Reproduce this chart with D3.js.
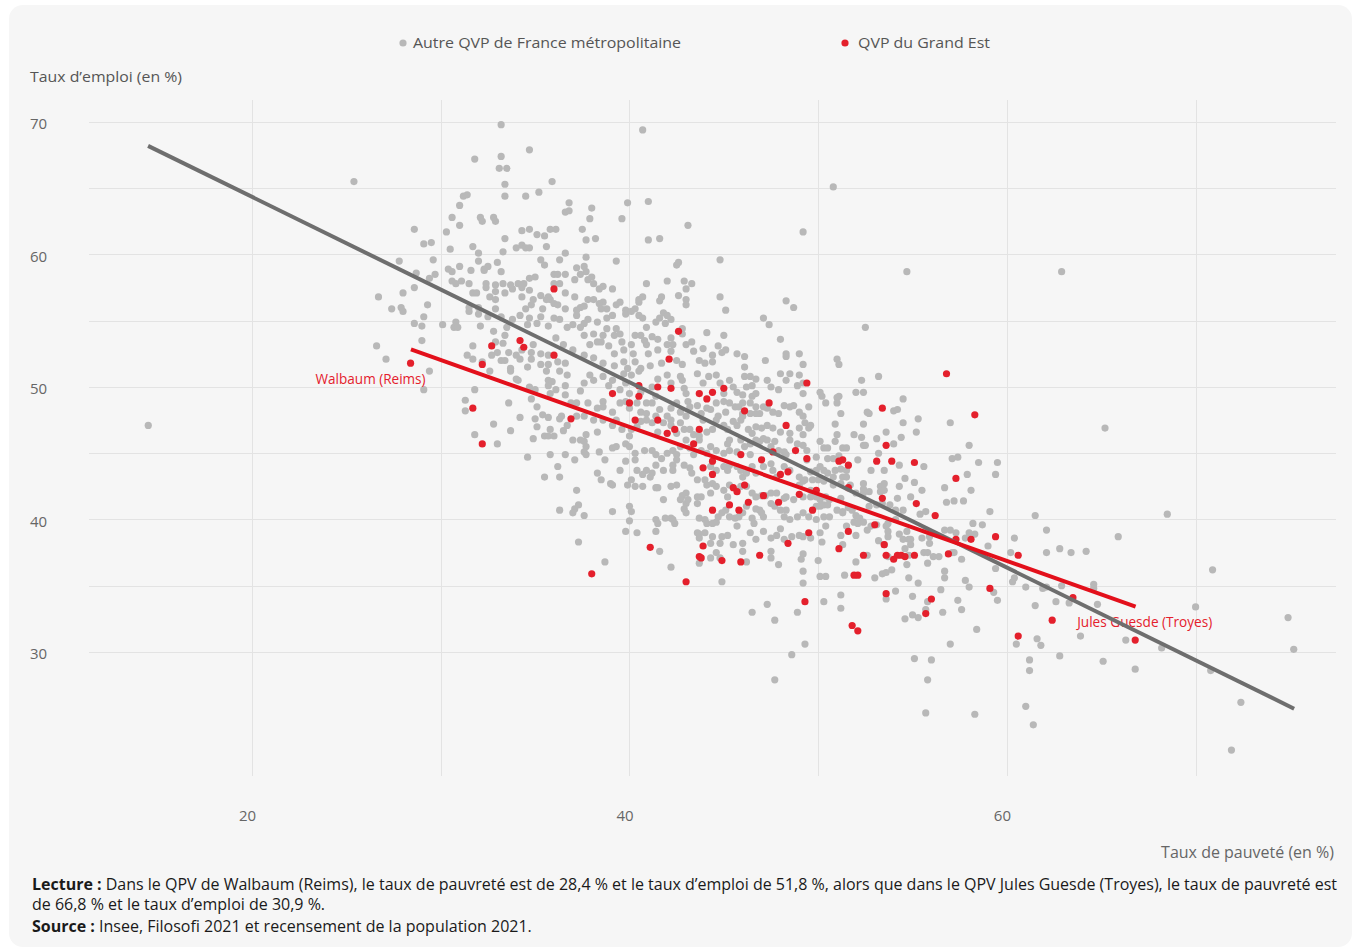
<!DOCTYPE html>
<html><head><meta charset="utf-8">
<script src="https://cdn.jsdelivr.net/npm/d3@7"></script>
<style>
body{margin:0;background:#fff;}
svg{display:block;font-family:"Open Sans",sans-serif;}
</style></head><body>
<svg id="chart" width="1357" height="948"></svg>
<script>
// ---- DATA (taux de pauvreté %, taux d'emploi %) ----
const seriesNames = ["Autre QVP de France métropolitaine", "QVP du Grand Est"];
const xTicks = [20, 40, 60];
const yTicks = [30, 40, 50, 60, 70];
const xGrid = [20, 30, 40, 50, 60, 70];
const yGrid = [30, 35, 40, 45, 50, 55, 60, 65, 70];

const autreQVP = [
[33.2,69.8],[34.7,67.9],[31.8,67.2],[33.2,67.4],[33.1,66.5],[33.5,66.5],[25.4,65.5],[33.4,65.3],[35.9,65.5],[35.2,64.7],[34.5,64.4],[33.4,64.4],[31.2,64.4],[31.4,64.5],[31.0,63.7],[36.8,63.9],[36.6,63.2],[36.8,63.3],[30.6,62.8],[32.1,62.8],[32.2,62.5],[32.8,62.8],[32.9,62.5],[31.0,62.2],[28.6,61.9],[30.3,61.7],[34.3,61.8],[34.7,61.9],[35.1,61.5],[35.5,61.4],[35.8,61.9],[36.1,61.9],[33.4,61.2],[29.1,60.8],[29.5,60.9],[30.5,60.4],[31.7,60.6],[34.0,60.5],[34.3,60.7],[34.5,60.5],[34.7,60.5],[33.3,60.2],[32.0,60.1],[35.6,60.6],[36.6,60.1],[27.8,59.5],[29.6,59.6],[32.0,59.5],[33.0,59.4],[35.3,59.6],[36.3,59.6],[35.5,59.2],[30.4,58.9],[31.0,59.1],[31.6,58.8],[32.3,58.9],[32.5,59.1],[32.3,58.8],[30.6,58.7],[33.2,58.7],[28.7,58.6],[29.7,58.5],[36.0,58.5],[36.2,58.5],[36.6,58.5],[29.4,58.2],[34.7,58.2],[35.0,58.3],[30.6,58.0],[31.1,58.0],[30.8,57.8],[31.5,57.8],[32.4,57.8],[32.9,57.7],[33.3,57.8],[33.7,57.7],[34.1,57.8],[34.4,57.8],[36.0,57.8],[36.3,57.8],[28.6,57.5],[32.4,57.5],[33.8,57.4],[34.3,57.5],[34.7,57.3],[26.7,56.8],[28.0,57.1],[31.7,57.1],[31.9,57.1],[32.6,56.8],[32.9,57.2],[33.4,57.1],[34.3,56.8],[35.3,56.9],[35.7,56.8],[36.6,57.1],[32.9,56.6],[34.9,56.6],[35.6,56.6],[35.8,56.6],[29.3,56.2],[27.4,55.9],[27.9,56.0],[28.0,55.7],[31.5,56.0],[31.5,55.7],[32.0,56.0],[32.9,55.9],[34.5,55.9],[34.8,56.2],[35.4,55.9],[36.0,56.3],[36.2,56.2],[36.6,55.9],[32.0,55.5],[32.5,55.3],[29.1,55.3],[28.6,54.8],[29.0,54.6],[30.1,54.7],[30.8,54.9],[30.7,54.5],[30.9,54.5],[32.1,54.6],[33.2,55.3],[33.8,55.1],[34.2,55.4],[34.7,55.2],[35.3,55.3],[35.7,54.6],[36.0,55.2],[36.3,55.1],[34.6,54.7],[35.1,54.8],[33.5,54.5],[32.8,54.2],[33.4,53.9],[36.1,53.7],[36.7,54.5],[29.0,53.5],[26.6,53.1],[31.7,53.1],[32.9,53.4],[33.3,53.3],[33.0,52.6],[32.7,52.4],[33.6,52.6],[34.0,52.4],[34.3,52.8],[34.9,53.2],[34.8,52.6],[35.3,52.5],[35.7,52.4],[36.5,53.2],[27.1,52.1],[31.4,52.4],[31.7,52.1],[32.2,51.9],[33.2,52.0],[33.4,52.0],[34.2,52.1],[34.8,52.1],[35.3,51.7],[35.7,51.7],[36.2,51.9],[36.6,51.8],[33.7,51.4],[34.6,51.5],
[40.7,69.4],[38.0,63.5],[39.9,63.9],[41.0,64.0],[37.9,62.7],[39.6,62.7],[43.1,62.2],[37.5,61.9],[37.7,61.1],[38.2,61.2],[41.0,61.1],[41.6,61.2],[49.2,61.7],[37.7,59.8],[39.3,59.5],[42.5,59.2],[42.6,59.4],[44.8,59.6],[37.2,59.0],[37.6,59.1],[37.7,58.7],[37.4,58.5],[38.0,58.3],[37.1,58.1],[37.8,58.1],[38.1,57.8],[38.6,57.6],[38.4,57.4],[39.1,57.4],[40.9,57.8],[42.0,58.0],[42.9,58.0],[43.3,57.8],[43.0,57.4],[37.1,56.8],[37.8,56.6],[38.1,56.6],[38.6,56.4],[38.4,56.3],[39.3,56.2],[39.5,56.4],[40.5,56.6],[40.7,56.8],[40.5,56.4],[41.7,56.8],[41.6,56.5],[42.6,56.9],[43.0,56.6],[43.0,56.2],[44.8,56.8],[45.1,55.8],[48.3,56.5],[48.7,56.0],[37.4,56.0],[37.2,55.8],[37.6,56.1],[38.8,55.9],[38.5,55.9],[39.8,55.8],[39.8,55.5],[40.1,55.7],[40.3,55.9],[38.8,55.2],[39.1,55.4],[37.2,55.4],[37.8,55.1],[38.3,54.9],[40.5,55.4],[40.7,55.2],[41.8,55.6],[42.0,55.4],[42.2,55.1],[41.6,55.2],[41.4,54.9],[41.9,54.8],[47.1,55.2],[47.4,54.7],[37.0,54.7],[37.6,54.8],[37.4,54.5],[38.8,54.4],[39.3,54.4],[40.9,54.5],[42.8,54.4],[37.6,53.9],[38.1,54.0],[38.6,53.9],[39.2,53.9],[39.5,54.0],[40.3,53.9],[40.6,53.9],[41.2,53.8],[42.2,53.7],[42.8,54.0],[44.1,54.1],[45.0,53.9],[48.0,53.6],[37.9,53.2],[38.3,53.4],[38.5,53.4],[38.9,53.1],[39.6,53.4],[39.7,52.8],[40.1,53.2],[40.8,53.5],[40.9,53.2],[41.5,53.6],[42.0,53.2],[42.3,53.2],[43.0,53.2],[43.3,53.4],[43.9,52.9],[44.7,53.1],[45.1,52.8],[43.4,52.7],[37.0,52.8],[37.6,52.4],[38.1,52.2],[39.2,52.5],[40.2,52.5],[41.0,52.5],[41.5,52.8],[42.2,52.7],[42.5,52.0],[42.8,51.7],[43.7,52.0],[44.0,51.8],[44.4,52.4],[44.4,51.9],[44.9,52.6],[45.7,52.5],[46.1,52.3],[46.1,51.5],[47.2,52.0],[48.3,52.5],[48.3,52.3],[49.0,52.5],[49.2,51.7],[38.6,51.8],[39.7,51.9],[39.2,51.6],[40.3,51.9],[41.1,51.6],[41.7,51.8],[40.6,51.4],[39.9,51.4],
[50.8,65.1],[54.7,58.7],[52.5,54.5],[51.0,52.1],[51.1,51.7],
[29.4,51.2],[29.1,49.8],[31.8,49.8],[31.3,49.0],[31.3,48.2],[32.6,51.2],[33.7,51.2],[34.0,50.6],[34.1,50.5],[34.7,50.0],[35.0,49.8],[34.8,49.1],[33.6,48.8],[35.1,48.5],[35.7,50.5],[35.9,50.4],[35.7,50.1],[36.1,49.8],[36.6,50.1],[36.6,49.4],[35.8,49.5],[36.7,50.9],[36.3,51.2],[35.6,51.2],[34.2,47.7],[35.0,47.6],[35.4,47.9],[35.7,47.7],[36.3,47.6],[36.4,47.8],[32.8,47.2],[33.7,46.7],[35.1,47.0],[35.8,46.8],[36.5,46.7],[36.7,47.1],[31.8,46.4],[33.0,45.7],[34.9,46.1],[35.5,46.3],[35.7,46.3],[36.0,46.3],[34.6,44.7],[35.8,44.9],[36.6,44.9],[36.2,44.0],[35.5,43.2],[36.3,43.2],[36.3,40.7],
[37.9,50.9],[38.1,50.5],[37.6,50.3],[37.4,49.7],[38.6,50.8],[39.1,50.5],[38.9,50.1],[39.7,51.0],[40.1,50.9],[40.5,51.2],[39.8,50.3],[39.5,49.8],[40.0,49.5],[40.6,49.6],[41.2,50.0],[41.5,50.6],[42.0,50.9],[42.2,50.3],[42.7,50.8],[42.8,50.5],[42.9,49.9],[43.0,49.5],[43.6,51.0],[43.9,50.3],[44.2,50.8],[44.6,50.9],[44.8,50.3],[45.0,49.5],[45.3,50.5],[45.5,50.0],[45.7,49.6],[46.1,50.8],[46.4,50.8],[46.7,50.6],[46.2,50.0],[46.5,50.1],[46.0,49.4],[46.5,49.3],[46.7,49.5],[47.3,50.5],[47.5,50.0],[47.9,49.8],[48.0,51.0],[48.3,50.5],[48.5,51.0],[49.0,50.9],[48.9,50.1],[49.2,50.3],[49.2,49.5],
[36.9,48.8],[37.2,48.8],[37.8,48.8],[38.3,48.4],[38.6,48.9],[38.6,48.5],[39.1,48.1],[39.5,48.8],[39.8,48.9],[40.4,48.8],[40.0,48.4],[40.9,48.8],[40.6,48.1],[40.9,48.0],[41.2,48.8],[41.4,49.3],[41.6,48.3],[42.2,48.4],[42.0,47.8],[42.5,48.8],[42.7,48.1],[43.1,48.9],[43.2,48.5],[43.0,47.8],[43.6,48.6],[43.8,48.0],[44.1,48.4],[43.9,47.5],[44.3,48.3],[44.6,48.8],[44.7,47.8],[45.0,48.9],[45.1,48.1],[45.3,48.8],[45.6,48.5],[45.8,48.5],[46.0,48.8],[46.4,48.8],[46.7,48.5],[46.0,48.0],[46.4,48.0],[46.7,48.0],[46.9,48.0],[47.1,48.5],[47.3,48.4],[47.6,48.1],[47.9,48.0],[48.2,48.6],[48.5,48.5],[48.7,48.6],[49.0,48.1],[49.2,47.8],[49.5,48.5],
[37.2,47.8],[37.6,47.8],[38.1,47.5],[38.6,47.5],[39.3,47.5],[39.1,47.1],[38.3,46.6],[37.7,46.4],[37.4,46.0],[37.0,46.0],[37.6,45.9],[39.6,46.8],[40.0,46.3],[40.1,46.8],[40.4,47.0],[40.6,47.4],[40.9,47.5],[41.2,47.3],[41.4,47.8],[41.5,46.6],[41.8,47.3],[42.2,47.1],[42.2,47.5],[42.5,46.5],[42.7,47.3],[42.9,46.8],[43.2,46.8],[43.4,46.4],[43.7,46.3],[44.1,46.6],[44.4,46.8],[44.6,47.5],[45.0,47.1],[45.2,46.8],[45.5,47.4],[45.7,47.1],[45.9,47.5],[46.0,47.8],[46.3,46.8],[46.5,46.5],[46.7,47.0],[47.0,46.9],[47.3,47.1],[47.6,46.9],[48.0,46.6],[48.5,46.5],[49.0,46.9],[49.3,47.3],[49.2,46.4],[49.5,46.9],
[37.7,45.5],[37.6,45.1],[37.7,44.9],[37.1,44.5],[38.4,45.1],[38.7,44.5],[39.1,45.4],[39.3,45.5],[39.8,45.7],[40.0,45.5],[40.3,45.0],[40.3,44.5],[40.8,45.2],[41.2,45.2],[41.4,44.9],[41.7,44.6],[42.0,45.0],[42.3,45.2],[42.5,44.9],[42.7,45.5],[43.0,46.0],[43.2,45.4],[43.4,44.9],[43.7,46.0],[43.8,45.2],[44.1,45.0],[44.3,45.5],[44.6,45.2],[45.0,45.0],[45.2,45.7],[45.3,46.0],[45.3,45.2],[45.7,45.1],[45.9,46.0],[46.1,45.5],[46.4,44.9],[46.4,45.7],[46.7,46.0],[46.9,45.9],[47.1,46.1],[47.3,46.0],[47.5,45.5],[47.7,45.9],[47.9,45.2],[48.2,45.1],[48.3,44.9],[48.5,46.0],[48.9,45.7],[49.2,45.6],[49.4,45.2],[49.4,44.5],
[38.3,43.5],[38.5,43.0],[39.5,43.7],[39.8,44.4],[40.4,43.7],[40.9,43.7],[41.2,43.5],[41.1,43.2],[40.7,43.4],[41.4,44.1],[41.8,43.7],[42.3,43.7],[42.5,44.5],[42.3,44.1],[42.9,44.1],[43.2,43.9],[43.3,43.5],[43.6,43.0],[44.0,43.0],[44.3,44.0],[44.6,43.7],[45.0,44.0],[45.2,43.7],[45.3,44.1],[45.7,44.0],[45.9,43.7],[46.0,43.2],[46.2,43.5],[46.5,44.0],[46.7,43.5],[47.1,44.0],[47.5,44.2],[47.6,43.7],[47.8,43.2],[48.2,44.0],[48.5,43.7],[49.0,43.2],[49.2,42.9],[49.3,43.0],[49.6,43.6],
[39.0,42.7],[39.1,42.6],[39.9,42.6],[40.1,43.0],[40.3,42.5],[40.7,42.5],[41.4,42.4],[41.5,42.4],[42.2,42.5],[42.5,42.6],[42.8,41.8],[43.0,42.0],[42.7,41.5],[43.0,41.2],[43.1,41.5],[43.6,41.7],[43.8,41.7],[44.1,42.6],[44.3,42.0],[44.4,42.7],[44.6,42.5],[45.0,42.2],[45.2,41.7],[45.3,42.6],[45.7,42.2],[45.9,42.5],[46.2,42.5],[46.5,42.0],[46.7,41.7],[47.0,41.8],[47.2,41.8],[47.5,42.0],[47.8,42.0],[48.2,41.6],[48.3,41.7],[48.7,41.5],[49.0,42.6],[49.2,41.7],[49.6,41.7],[37.2,42.2],
[37.3,41.1],[37.1,40.8],[37.0,40.5],[37.6,40.3],[39.1,40.6],[40.0,41.0],[40.1,40.6],[40.0,39.9],[41.8,41.5],[41.4,40.0],[41.5,39.7],[41.9,40.1],[42.2,40.1],[42.3,40.0],[42.4,39.7],[42.9,40.8],[43.0,40.5],[43.6,41.2],[43.7,40.1],[44.0,40.0],[44.1,39.7],[44.4,39.7],[44.6,39.8],[44.7,40.2],[44.9,40.5],[45.1,40.7],[45.3,40.2],[45.6,40.1],[45.8,40.2],[46.0,40.5],[46.2,41.0],[46.5,40.1],[46.6,39.7],[46.7,40.8],[46.9,40.7],[47.0,40.5],[47.1,40.2],[47.5,41.2],[47.7,41.0],[48.0,40.7],[48.2,40.2],[48.3,40.7],[48.5,40.0],[48.9,40.2],[49.2,40.5],[49.5,40.2],
[37.3,38.3],[39.8,39.1],[40.4,39.0],[41.4,39.1],[41.6,37.6],[43.6,39.0],[43.7,38.9],[44.0,39.0],[43.7,38.6],[44.3,38.2],[44.4,38.7],[44.8,38.2],[44.9,38.7],[45.2,38.8],[45.5,38.1],[45.7,39.5],[46.0,38.2],[46.4,39.0],[46.7,38.5],[47.1,39.1],[47.5,38.6],[47.8,38.8],[48.0,39.3],[48.2,38.5],[48.6,38.7],[49.0,38.8],[49.2,38.7],[49.2,37.4],[47.5,37.6],[46.0,37.6],[44.6,37.5],[44.8,37.1],[44.3,37.1],[43.7,36.7],
[38.7,36.8],[42.2,36.4],[44.9,35.3],[46.2,36.8],[47.5,37.1],[47.9,36.6],[49.1,37.0],[49.2,36.1],[49.2,35.2],[46.5,33.0],[47.3,33.6],[48.9,33.0],[47.7,32.4],
[52.3,50.5],[53.2,50.8],[50.1,49.6],[50.2,49.3],[50.4,48.8],[51.0,49.2],[51.1,49.3],[51.0,48.8],[52.0,49.6],[52.4,49.6],[51.2,48.0],[52.6,48.1],[52.7,48.0],[54.0,48.2],[54.2,48.3],[54.5,49.1],[49.6,47.1],[50.9,47.2],[52.4,47.2],[54.5,47.3],[55.3,47.6],[57.0,47.3],[55.2,46.6],[53.6,46.6],[53.1,46.1],[54.4,46.2],[50.1,45.9],[50.3,45.4],[50.5,45.4],[50.9,45.9],[51.0,46.4],[51.9,46.4],[52.3,46.2],[52.4,45.6],[52.5,45.6],[51.3,45.4],[51.5,45.4],[53.2,45.0],[54.0,45.7],[58.0,45.6],[49.9,44.7],[50.5,44.6],[50.8,44.6],[51.1,44.8],[52.1,44.5],[54.3,44.1],[55.6,44.0],[57.1,44.6],[57.4,44.7],[58.5,44.3],[59.5,44.3],[50.1,44.0],[49.9,43.7],[50.3,43.7],[50.5,43.5],[50.9,43.7],[51.2,43.8],[51.5,43.7],[50.8,43.2],[51.3,43.2],[51.5,43.2],[52.8,43.7],[53.5,43.7],[54.6,43.1],[55.1,42.8],[57.9,43.4],[59.4,43.4],[49.7,43.0],[50.0,43.0],[50.3,42.9],[50.8,42.6],[51.2,42.7],[51.7,42.6],[52.4,42.7],[52.4,42.3],[53.3,42.5],[53.5,42.7],[54.3,42.5],[55.5,42.2],[56.7,42.4],[58.1,42.2],[49.6,42.2],[49.9,41.7],[50.1,41.5],[50.4,41.7],[50.6,41.5],[51.2,41.6],[52.0,42.0],[52.4,42.0],[52.7,42.1],[53.3,42.1],[53.5,42.2],[54.2,41.6],[54.9,41.7],[56.8,41.3],[57.2,41.4],[57.7,41.4],[49.9,41.0],[50.1,41.0],[50.3,41.1],[50.5,41.1],[51.0,40.7],[51.3,40.6],[51.6,40.9],[51.8,40.7],[52.7,41.0],[53.1,41.1],[53.4,41.2],[53.8,41.1],[54.1,40.7],[54.5,40.7],[55.4,40.4],[55.7,40.6],[59.1,40.6],[61.5,40.3],[49.9,40.0],[50.3,40.2],[50.6,40.2],[50.4,39.5],[51.3,40.5],[52.0,40.3],[52.2,40.1],[52.4,39.8],[51.9,39.8],[52.1,39.7],[52.8,39.5],[53.1,39.6],[53.7,39.7],[54.1,40.0],[53.6,39.5],[53.7,39.1],[54.3,38.9],[54.7,39.1],[54.8,38.5],[55.7,39.2],[55.9,38.7],[56.7,39.2],[57.0,39.2],[57.3,39.0],[58.2,39.7],[58.7,39.6],[58.0,39.0],[58.3,38.9],[50.1,39.0],[49.6,38.6],[51.2,38.8],[51.5,39.5],[52.0,38.8],[52.6,39.2],[53.2,38.4],[53.7,38.7],[54.5,38.5],[54.9,38.5],[55.9,38.2],[54.9,38.1],[55.5,38.6],[57.8,38.6],[59.0,38.0],[60.4,38.6],[62.1,39.2],[50.2,38.3],[51.3,38.1],[53.5,38.1],[54.6,37.8],[55.6,37.5],[55.8,37.5],[56.1,37.2],[56.4,37.2],[57.1,37.5],[57.2,37.5],[57.6,37.0],[60.2,37.5],[62.1,37.5],[50.0,36.9],[52.0,36.8],[52.6,37.3],[53.7,37.2],[54.8,37.3],[55.8,36.7],[50.1,35.7],[50.4,35.7],[51.4,35.8],[53.0,35.6],[53.4,35.9],[53.6,36.0],[53.9,36.2],[54.7,36.6],[54.8,35.6],[56.7,36.1],[56.7,35.6],[55.3,35.2],[57.8,35.4],[58.0,34.9],[59.4,36.3],[60.3,35.3],[60.4,35.6],[61.0,34.9],[61.9,34.8],[62.1,34.9],[51.2,34.3],[54.1,34.6],[56.5,34.7],[59.3,34.5],[59.5,33.9],[50.3,33.8],[53.6,34.0],[55.0,34.2],[55.8,33.8],[57.4,33.9],[57.6,33.2],[56.6,33.0],[55.0,32.8],[55.7,33.2],[55.3,32.6],[54.6,32.5],[51.2,33.3],[61.5,33.5],
[14.5,47.1],[47.7,27.9],[48.6,29.8],[49.3,30.6],
[62.6,33.8],[63.3,33.7],[64.8,33.6],[70.0,33.4],[74.9,32.6],[75.2,30.2],[62.8,29.7],[63.9,31.2],[65.1,29.3],[66.3,30.9],[66.8,28.7],[68.2,30.3],[70.8,28.6],[72.4,26.2],[71.9,22.6],[62.9,35.0],[64.6,35.1],[64.6,34.8],[70.9,36.2],[58.4,31.7],[57.0,30.6],[55.1,29.5],[56.0,29.4],[55.8,27.9],[55.7,25.4],[58.3,25.3],[60.5,30.6],[61.2,29.4],[61.2,28.6],[61.6,31.0],[61.8,30.5],[61.0,25.9],[61.4,24.5],
[62.9,58.7],[65.2,46.9],[68.5,40.4],[62.8,37.8],[64.2,37.6],[63.4,37.5],[65.9,38.7]
];

const grandEstQVP = [
[36.0,57.4],[34.2,53.5],[32.7,53.1],[34.4,53.0],[36.0,52.4],[28.4,51.8],[32.2,51.7],
[42.6,54.2],[42.1,52.1],
[31.7,48.4],[32.2,45.7],[36.9,47.6],
[39.1,49.5],[40.5,50.1],[41.5,50.0],[42.2,49.9],[40.5,49.3],[40.0,48.8],[43.7,49.5],[44.4,49.6],[44.1,49.1],[45.0,49.9],[46.1,48.2],[47.4,48.8],[40.3,47.5],[41.5,47.5],[42.4,46.8],[42.0,46.5],[43.7,46.8],[43.4,45.7],[45.9,44.9],[44.4,44.4],[43.9,43.9],[44.4,43.4],[47.0,44.5],[47.6,45.1],[48.8,45.2],[49.4,44.6],[48.3,47.1],[49.4,50.3],[48.0,43.4],[48.4,43.6],[46.1,42.6],[45.5,42.4],[45.7,42.1],[47.1,41.8],[45.3,41.1],[46.3,41.3],[45.8,40.7],[44.4,40.7],[47.9,41.3],[49.0,41.9],[49.5,39.0],[48.4,38.2],[43.9,38.0],[41.1,37.9],[43.7,37.2],[43.8,37.1],[44.9,36.9],[45.9,36.8],[46.9,37.3],[38.0,35.9],[43.0,35.3],[49.3,33.8],
[56.8,51.0],[53.4,48.4],[58.3,47.9],[53.6,45.6],[53.1,44.4],[53.9,44.4],[55.1,44.3],[57.3,43.1],[51.3,44.5],[51.6,44.1],[51.1,44.4],[51.6,42.4],[49.9,42.2],[49.7,40.7],[53.4,41.6],[55.2,41.2],[56.2,40.3],[53.0,39.6],[51.6,39.1],[51.1,37.8],[52.4,37.3],[53.6,37.3],[54.0,37.0],[54.2,37.3],[54.4,37.3],[54.6,37.2],[55.1,37.3],[56.9,37.4],[53.5,38.1],[57.3,38.5],[58.1,38.5],[59.4,38.7],[60.6,37.3],[51.9,35.8],[52.1,35.8],[53.6,34.4],[56.0,34.0],[55.7,32.9],[59.1,34.8],[51.8,32.0],
[52.1,31.6],[60.6,31.2],[62.4,32.4],[63.5,34.1],[66.8,30.9]
];

// trend lines (start/end)
const trendAutre = [[14.49, 68.2], [75.22, 25.72]];
const trendGrandEst = [[28.42, 52.84], [66.82, 33.42]];

const annotations = [
  {text: "Walbaum (Reims)", x: 28.4, y: 51.8, anchor: "end", w: 110},
  {text: "Jules Guesde (Troyes)", x: 66.8, y: 30.9, anchor: "start", w: 135}
];

// ---- DRAWING ----
const svg = d3.select("#chart");
svg.append("rect").attr("x", 9).attr("y", 5).attr("width", 1343).attr("height", 942)
  .attr("rx", 14).attr("fill", "#f6f6f6");

const x = d3.scaleLinear().domain([11.36, 77.44]).range([89, 1336]);
const y = d3.scaleLinear().domain([20.64, 71.66]).range([776, 100]);

const grid = svg.append("g").attr("stroke", "#e3e3e3").attr("stroke-width", 1);
grid.selectAll("line.v").data(xGrid).join("line").attr("class", "v")
  .attr("x1", d => Math.round(x(d)) + 0.5).attr("x2", d => Math.round(x(d)) + 0.5)
  .attr("y1", 100).attr("y2", 776);
grid.selectAll("line.h").data(yGrid).join("line").attr("class", "h")
  .attr("y1", d => Math.round(y(d)) + 0.5).attr("y2", d => Math.round(y(d)) + 0.5)
  .attr("x1", 89).attr("x2", 1336);

// axes (labels only)
const xAxis = d3.axisBottom(x).tickValues(xTicks).tickSize(0).tickPadding(0);
const gx = svg.append("g").attr("transform", "translate(-5,810)").call(xAxis);
gx.select(".domain").remove();
gx.selectAll("text").attr("fill", "#666").attr("font-size", 15).attr("font-family", "Open Sans");

const yAxis = d3.axisLeft(y).tickValues(yTicks).tickSize(0).tickPadding(0);
const gy = svg.append("g").attr("transform", "translate(30,1.5)").call(yAxis);
gy.select(".domain").remove();
gy.selectAll("text").attr("fill", "#666").attr("font-size", 15).attr("font-family", "Open Sans")
  .attr("text-anchor", "start").attr("dy", "0.35em");

svg.append("text").attr("x", 30).attr("y", 82).attr("fill", "#555").attr("font-size", 15)
  .attr("textLength", 152).attr("lengthAdjust", "spacingAndGlyphs").text("Taux d’emploi (en %)");
svg.append("text").attr("x", 1334).attr("y", 857.5).attr("fill", "#666").attr("font-size", 16)
  .attr("text-anchor", "end").text("Taux de pauveté (en %)");

// legend
const legend = [
  {name: seriesNames[0], color: "#b8b8b8", cx: 403, tx: 413, w: 268},
  {name: seriesNames[1], color: "#e4202c", cx: 845, tx: 858, w: 132}
];
legend.forEach(l => {
  svg.append("circle").attr("cx", l.cx).attr("cy", 43).attr("r", 3.6).attr("fill", l.color);
  svg.append("text").attr("x", l.tx).attr("y", 48).attr("font-size", 15).attr("fill", "#555")
    .attr("textLength", l.w).attr("lengthAdjust", "spacingAndGlyphs").text(l.name);
});

// points
svg.append("g").selectAll("circle").data(autreQVP).join("circle")
  .attr("cx", d => x(d[0])).attr("cy", d => y(d[1])).attr("r", 3.6).attr("fill", "#b8b8b8");
svg.append("g").selectAll("circle").data(grandEstQVP).join("circle")
  .attr("cx", d => x(d[0])).attr("cy", d => y(d[1])).attr("r", 3.6).attr("fill", "#e4202c");

// annotations
annotations.forEach(a => {
  svg.append("text").attr("x", x(a.x) + (a.anchor === "end" ? 15 : -58)).attr("y", y(a.y) + (a.anchor === "end" ? 21 : -13))
    .attr("text-anchor", a.anchor).attr("font-size", 15).attr("fill", "#e4202c")
    .attr("textLength", a.w).attr("lengthAdjust", "spacingAndGlyphs").text(a.text);
});

// trend lines
const line = d3.line().x(d => x(d[0])).y(d => y(d[1]));
svg.append("path").datum(trendAutre).attr("d", line).attr("stroke", "#6e6e6e").attr("stroke-width", 4).attr("fill", "none");
svg.append("path").datum(trendGrandEst).attr("d", line).attr("stroke", "#e3101b").attr("stroke-width", 4).attr("fill", "none");

// footer
const foot = svg.append("g").attr("font-size", 16).attr("fill", "#1a1a1a");
const t1 = foot.append("text").attr("x", 32).attr("y", 889.5).attr("textLength", 1305).attr("lengthAdjust", "spacing");
t1.append("tspan").attr("font-weight", "bold").text("Lecture : ");
t1.append("tspan").text("Dans le QPV de Walbaum (Reims), le taux de pauvreté est de 28,4 % et le taux d’emploi de 51,8 %, alors que dans le QPV Jules Guesde (Troyes), le taux de pauvreté est");
foot.append("text").attr("x", 32).attr("y", 910).text("de 66,8 % et le taux d’emploi de 30,9 %.");
const t3 = foot.append("text").attr("x", 32).attr("y", 931.5);
t3.append("tspan").attr("font-weight", "bold").text("Source : ");
t3.append("tspan").text("Insee, Filosofi 2021 et recensement de la population 2021.");
</script>
</body></html>
